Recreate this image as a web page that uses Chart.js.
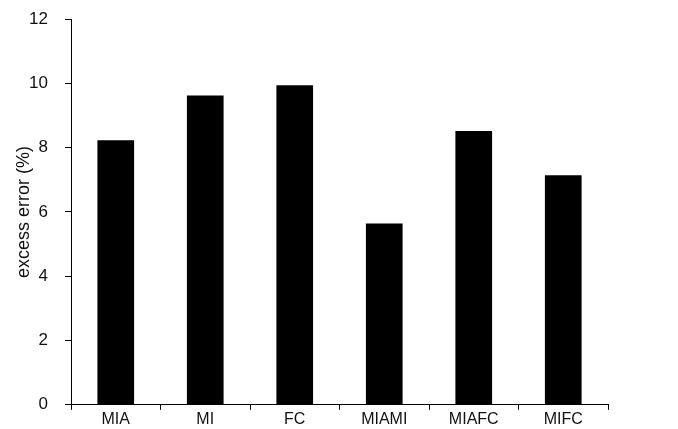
<!DOCTYPE html>
<html>
<head>
<meta charset="utf-8">
<script src="https://cdn.jsdelivr.net/npm/chart.js@4/dist/chart.umd.min.js"></script>
<style>
  html, body { margin: 0; padding: 0; background: #fff; }
  #wrap { width: 678px; height: 429px; }
</style>
</head>
<body>
<div id="wrap"><canvas id="myChart"></canvas></div>
<script>
// categories and values
const categories = ["MIA", "MI", "FC", "MIAMI", "MIAFC", "MIFC"];
const excessError = [8.23, 9.62, 9.94, 5.64, 8.52, 7.14];
const yTicks = [0, 2, 4, 6, 8, 10, 12];

const ctx = document.getElementById("myChart");

new Chart(ctx, {
  type: "bar",
  data: {
    labels: categories,
    datasets: [
      {
        label: "excess error",
        data: excessError,
        backgroundColor: "#000",
        borderWidth: 0,
        categoryPercentage: 1.0,
        barPercentage: 0.41,
      },
    ],
  },
  options: {
    responsive: true,
    maintainAspectRatio: false,
    animation: false,
    layout: { padding: { top: 19, right: 70, bottom: 0, left: 13 } },
    plugins: {
      legend: { display: false },
      tooltip: { enabled: false },
    },
    scales: {
      x: {
        grid: {
          display: true,
          offset: true,
          drawOnChartArea: false,
          drawTicks: true,
          tickLength: 5,
          color: "#000",
        },
        border: { color: "#000", width: 1 },
        ticks: {
          color: "#111",
          font: { family: "Liberation Sans", size: 16 },
          padding: 0,
        },
      },
      y: {
        min: 0,
        max: 12,
        afterBuildTicks: (axis) => {
          axis.ticks = yTicks.map((v) => ({ value: v }));
        },
        // title overlaps the label column in the original, so fix the width
        // and let the layout padding decide the top edge
        afterFit: (axis) => {
          axis.width = 58;
          axis.paddingTop = 0;
          axis.paddingBottom = 0;
        },
        grid: {
          display: true,
          drawOnChartArea: false,
          drawTicks: true,
          tickLength: 6,
          color: "#000",
        },
        border: { color: "#000", width: 1 },
        ticks: {
          color: "#111",
          font: { family: "Liberation Sans", size: 17 },
          padding: 17,
        },
        title: {
          display: true,
          text: "excess error (%)",
          color: "#111",
          font: { family: "Liberation Sans", size: 18 },
          padding: { top: 0, bottom: 0 },
        },
      },
    },
  },
});
</script>
</body>
</html>
